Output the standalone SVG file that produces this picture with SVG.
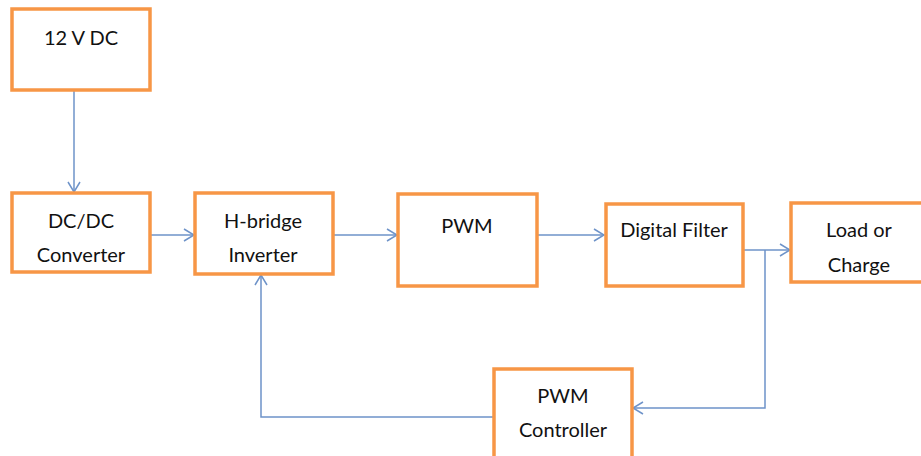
<svg xmlns="http://www.w3.org/2000/svg" width="921" height="456" viewBox="0 0 921 456">
  <style>
    .box { fill: #ffffff; stroke: #f79646; stroke-width: 3.5; }
    .lbl { font-family: Lato, "Liberation Sans", sans-serif; font-size: 20px; fill: #111111; text-anchor: middle; }
    .wire { fill: none; stroke: #6e93c9; stroke-width: 1.5; }
  </style>
  <defs>
    <marker id="open" viewBox="0 0 12 14" refX="11" refY="7" markerWidth="12" markerHeight="14" markerUnits="userSpaceOnUse" orient="auto">
      <path d="M1,1 L11,7 L1,13" fill="none" stroke="#6e93c9" stroke-width="1.5"/>
    </marker>
  </defs>
  <rect width="921" height="456" fill="#ffffff"/>

  <g id="connectors">
    <line class="wire" x1="74" y1="90" x2="74" y2="192" marker-end="url(#open)"/>
    <line class="wire" x1="150" y1="235" x2="194" y2="235" marker-end="url(#open)"/>
    <line class="wire" x1="333" y1="235" x2="397" y2="235" marker-end="url(#open)"/>
    <line class="wire" x1="537" y1="235" x2="604" y2="235" marker-end="url(#open)"/>
    <line class="wire" x1="743" y1="250" x2="790" y2="250" marker-end="url(#open)"/>
    <polyline class="wire" points="765,250 765,408 633,408" marker-end="url(#open)"/>
    <polyline class="wire" points="494,417 261,417 261,275" marker-end="url(#open)"/>
  </g>

  <g id="src12v">
    <rect class="box" x="12" y="9" width="138" height="81"/>
    <text class="lbl" x="81" y="45">12 V DC</text>
  </g>
  <g id="dcdc">
    <rect class="box" x="12" y="193" width="138" height="79"/>
    <text class="lbl" x="81" y="228">DC/DC</text>
    <text class="lbl" x="81" y="262">Converter</text>
  </g>
  <g id="hbridge">
    <rect class="box" x="195" y="193" width="138" height="81"/>
    <text class="lbl" x="263" y="228">H-bridge</text>
    <text class="lbl" x="263" y="262">Inverter</text>
  </g>
  <g id="pwm">
    <rect class="box" x="398" y="194" width="139" height="92"/>
    <text class="lbl" x="467" y="233">PWM</text>
  </g>
  <g id="filter">
    <rect class="box" x="606" y="204" width="137" height="82"/>
    <text class="lbl" x="674" y="237">Digital Filter</text>
  </g>
  <g id="load">
    <rect class="box" x="791" y="203" width="140" height="79"/>
    <text class="lbl" x="859" y="237">Load or</text>
    <text class="lbl" x="859" y="272">Charge</text>
  </g>
  <g id="pwmctrl">
    <rect class="box" x="494" y="369" width="138" height="100"/>
    <text class="lbl" x="563" y="403">PWM</text>
    <text class="lbl" x="563" y="437">Controller</text>
  </g>
</svg>
